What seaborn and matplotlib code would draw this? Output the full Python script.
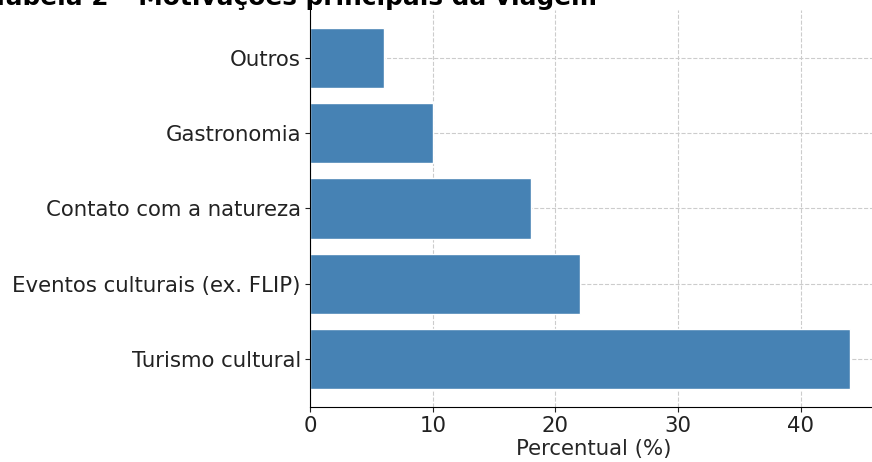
import matplotlib
matplotlib.use('Agg')
import matplotlib.pyplot as plt
import seaborn as sns
import pandas as pd

# Dados
motivos = ['Turismo cultural', 'Eventos culturais (ex. FLIP)', 'Contato com a natureza',
           'Gastronomia', 'Outros']
percentual = [44, 22, 18, 10, 6]

df = pd.DataFrame({'Motivo': motivos, 'Percentual': percentual})

sns.set_style('ticks')
plt.rcParams['font.family'] = ['DejaVu Sans']

fig = plt.figure(figsize=(8.72, 4.62), dpi=100)
ax = fig.add_axes([310 / 872, 55 / 462, 567 / 872, 397 / 462])

sns.barplot(data=df, y='Motivo', x='Percentual', color='steelblue', orient='h',
            width=0.8, saturation=1, ax=ax)
ax.invert_yaxis()
ax.set_xlim(0, 46.2)
ax.set_ylim(-0.64, 4.64)
ax.grid(True, linestyle='--', color='#cccccc', linewidth=0.8)
ax.set_axisbelow(True)
sns.despine(ax=ax)
ax.spines['left'].set_color('black')
ax.spines['bottom'].set_color('black')
ax.tick_params(labelsize=15.3, colors='#222222', pad=3)
ax.set_xlabel('Percentual (%)', fontsize=15.3, labelpad=2)
ax.set_ylabel('')

# titulo cortado no topo, como na imagem original
fig.text(597 / 872, 1 - 5 / 462, 'Tabela 2 – Motivações principais da viagem',
         ha='right', va='baseline', fontsize=17.8, fontweight='bold', color='black')

fig.savefig('out.png', dpi=100)
